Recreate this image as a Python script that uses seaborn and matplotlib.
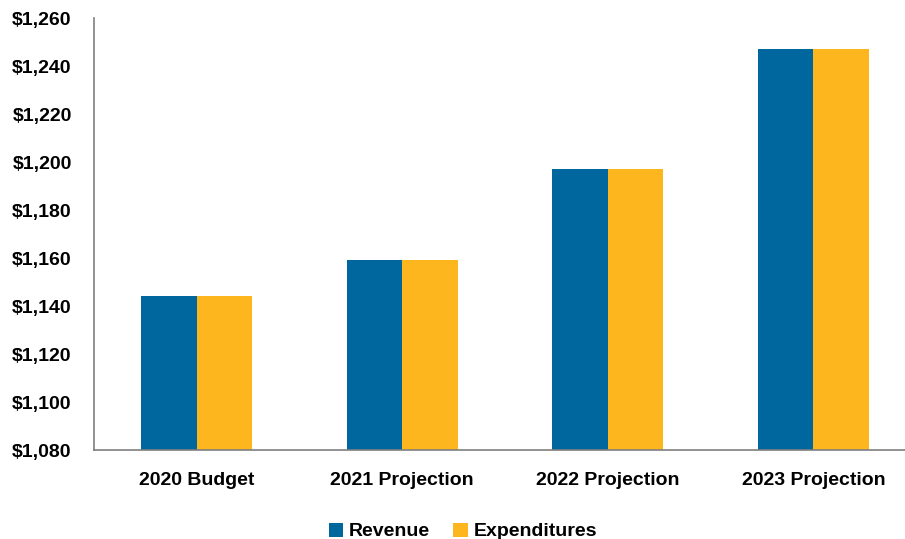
import pandas as pd
import numpy as np
import matplotlib.pyplot as plt
import seaborn as sns

categories = ['2020 Budget', '2021 Projection', '2022 Projection', '2023 Projection']
revenue = [1144, 1159, 1197, 1247]
expenditures = [1144, 1159, 1197, 1247]
yticks = [1080, 1100, 1120, 1140, 1160, 1180, 1200, 1220, 1240, 1260]

df = pd.DataFrame({
    'category': categories * 2,
    'series': ['Revenue'] * 4 + ['Expenditures'] * 4,
    'value': revenue + expenditures,
})

sns.set_style('white')
plt.rcParams['font.family'] = ['Liberation Sans', 'DejaVu Sans']
plt.rcParams['text.color'] = 'black'
plt.rcParams['xtick.color'] = 'black'
plt.rcParams['ytick.color'] = 'black'

fig = plt.figure(figsize=(9.05, 5.39), dpi=100)
ax = fig.add_axes([94 / 905, 1 - 450 / 539, (905 - 94) / 905, (450 - 18) / 539])

sns.barplot(data=df, x='category', y='value', hue='series',
            palette={'Revenue': '#00679E', 'Expenditures': '#FDB61D'},
            width=0.54, saturation=1, linewidth=0, ax=ax)

ax.set_ylim(1080, 1260)
ax.set_xlim(-0.5, 3.446)
ax.set_yticks(yticks)
ax.set_yticklabels([f'${v:,}' for v in yticks], fontsize=14, fontweight='bold')
ax.set_xticks(range(len(categories)))
ax.set_xticklabels(categories, fontsize=14, fontweight='bold')
ax.tick_params(axis='x', pad=16, length=0)
ax.tick_params(axis='y', pad=16, length=0)
ax.set_xlabel('')
ax.set_ylabel('')

for s in ['top', 'right']:
    ax.spines[s].set_visible(False)
for s in ['left', 'bottom']:
    ax.spines[s].set_color('#7f7f7f')
    ax.spines[s].set_linewidth(1.2)

handles, labels = ax.get_legend_handles_labels()
ax.legend(handles, labels, loc='lower center', bbox_to_anchor=(0.455, -0.25),
          ncol=2, frameon=False, handlelength=0.75, handleheight=0.75,
          handletextpad=0.3, columnspacing=1.2,
          prop={'weight': 'bold', 'size': 14})

fig.savefig('out.png', dpi=100)
